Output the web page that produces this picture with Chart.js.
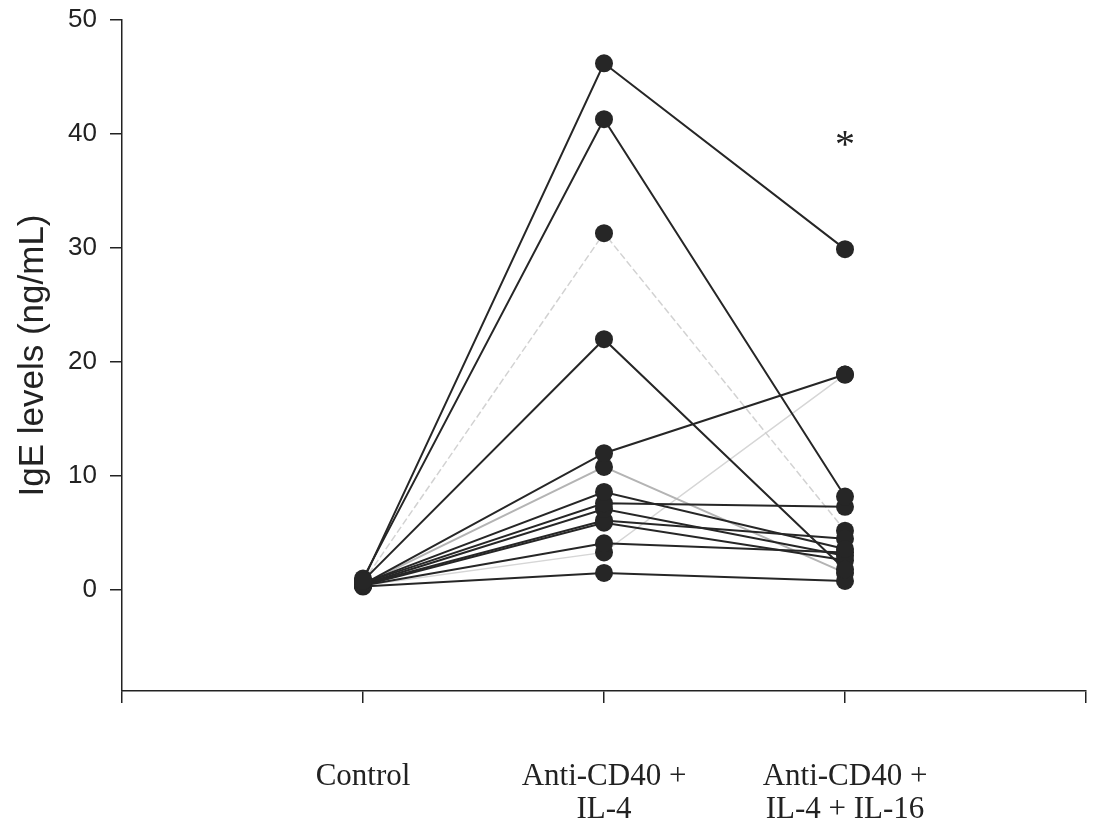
<!DOCTYPE html>
<html>
<head>
<meta charset="utf-8">
<script src="https://cdn.jsdelivr.net/npm/chart.js@4/dist/chart.umd.min.js"></script>
<style>
  html, body { margin: 0; padding: 0; background: #fff; }
  #wrap { width: 1095px; height: 833px; position: relative; }
</style>
</head>
<body>
<div id="wrap"><canvas id="c" width="1095" height="833"></canvas></div>
<script>
// Categories (x positions 1..3 on a 0..4 axis)
const categories = ['Control', ['Anti-CD40 +', 'IL-4'], ['Anti-CD40 +', 'IL-4 + IL-16']];
// One entry per donor
const control         = [0.8, 1.0, 0.7, 0.8, 0.5, 0.5, 0.6, 0.6, 0.5, 0.5, 0.4, 0.4, 0.4, 0.3];
const antiCD40IL4     = [46.2, 41.3, 31.3, 22.0, 12.0, 10.8, 8.6, 7.6, 7.1, 6.1, 5.9, 4.1, 3.3, 1.5];
const antiCD40IL4IL16 = [29.9, 8.2, 5.2, 1.8, 18.9, 1.5, 3.6, 7.3, 3.0, 4.5, 2.6, 3.3, 18.9, 0.8];
const lineShade       = ['dark','dark','faintDash','dark','dark','grey','dark','dark','dark','dark','dark','dark','faint','dark'];
const yTicks = [0, 10, 20, 30, 40, 50];
const yMin = -8.86, yMax = 50;
const significance = { label: '*', category: 3, value: 39.6 };

const shadeStyle = {
  dark:      { color: '#262626', width: 2,   dash: [],     order: 1 },
  grey:      { color: '#b4b4b4', width: 2,   dash: [],     order: 2 },
  faint:     { color: '#d6d6d6', width: 1.5, dash: [],     order: 3 },
  faintDash: { color: '#d2d2d2', width: 1.5, dash: [7, 3], order: 3 }
};

const datasets = control.map((c, i) => {
  const s = shadeStyle[lineShade[i]];
  return {
    data: [{ x: 1, y: c }, { x: 2, y: antiCD40IL4[i] }, { x: 3, y: antiCD40IL4IL16[i] }],
    borderColor: s.color,
    borderWidth: s.width,
    borderDash: s.dash,
    pointBackgroundColor: '#262626',
    pointBorderColor: '#262626',
    pointBorderWidth: 0,
    pointRadius: 9,
    pointHoverRadius: 9,
    tension: 0,
    fill: false,
    showLine: true,
    order: s.order
  };
});

const annotate = {
  id: 'annotate',
  afterDatasetsDraw(chart) {
    const ctx = chart.ctx;
    const x = chart.scales.x.getPixelForValue(significance.category);
    const y = chart.scales.y.getPixelForValue(significance.value);
    ctx.save();
    ctx.font = '40px "Liberation Serif", "Times New Roman", serif';
    ctx.fillStyle = '#222';
    ctx.textAlign = 'center';
    ctx.textBaseline = 'middle';
    ctx.fillText(significance.label, x, y + 8);
    ctx.restore();
  }
};

new Chart(document.getElementById('c'), {
  type: 'scatter',
  data: { datasets },
  plugins: [annotate],
  options: {
    responsive: false,
    animation: false,
    events: [],
    layout: { padding: { top: 20, right: 8, left: 0, bottom: 0 } },
    plugins: { legend: { display: false }, tooltip: { enabled: false } },
    scales: {
      x: {
        type: 'linear',
        min: 0, max: 4,
        afterBuildTicks: (s) => { s.ticks = [0, 1, 2, 3, 4].map(v => ({ value: v })); },
        afterFit: (s) => { s.height = 142; s.paddingLeft = 0; s.paddingRight = 0; },
        grid: { drawOnChartArea: false, drawTicks: true, tickLength: 12, color: '#222', lineWidth: 1.5 },
        border: { display: true, color: '#222', width: 1.5 },
        ticks: {
          padding: 57,
          maxRotation: 0,
          autoSkip: false,
          color: '#222',
          font: { family: '"Liberation Serif", "Times New Roman", serif', size: 31, lineHeight: 1.07 },
          callback: (v) => (v >= 1 && v <= 3) ? categories[v - 1] : ''
        }
      },
      y: {
        type: 'linear',
        min: yMin, max: yMax,
        afterBuildTicks: (s) => { s.ticks = yTicks.map(v => ({ value: v })); },
        afterFit: (s) => { s.width = 122; s.paddingTop = 0; s.paddingBottom = 0; },
        grid: { drawOnChartArea: false, drawTicks: true, tickLength: 12, color: '#222', lineWidth: 1.5 },
        border: { display: true, color: '#222', width: 1.5 },
        ticks: {
          padding: 13,
          color: '#222',
          font: { family: '"Liberation Sans", Arial, sans-serif', size: 26 }
        },
        title: {
          display: true,
          text: 'IgE levels (ng/mL)',
          color: '#222',
          font: { family: '"Liberation Sans", Arial, sans-serif', size: 35 },
          padding: { top: 12, bottom: 0 }
        }
      }
    }
  }
});
</script>
</body>
</html>
